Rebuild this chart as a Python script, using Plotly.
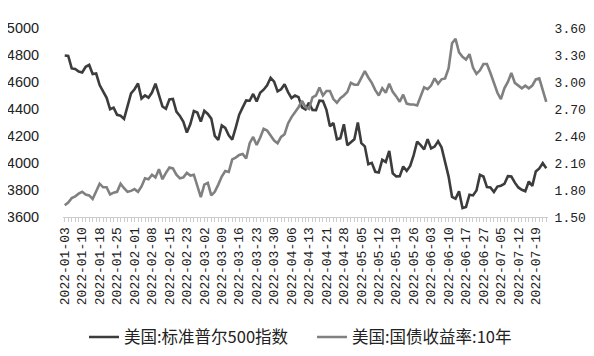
import pandas as pd
import plotly.graph_objects as go

holidays = ["2022-01-17", "2022-02-21", "2022-04-15", "2022-05-30", "2022-06-20", "2022-07-04"]
dates = [d.strftime("%Y-%m-%d") for d in pd.bdate_range("2022-01-03", "2022-07-22")
         if d.strftime("%Y-%m-%d") not in holidays]

spx = [4796.56, 4793.54, 4700.58, 4696.05, 4677.03, 4670.29, 4713.07, 4726.35, 4659.03, 4662.85,
       4577.11, 4532.76, 4482.73, 4397.94, 4410.13, 4356.45, 4349.93, 4326.51, 4431.85, 4515.55,
       4546.54, 4589.38, 4477.44, 4500.53, 4483.87, 4521.54, 4587.18, 4504.08, 4418.64, 4401.67,
       4471.07, 4475.01, 4380.26, 4348.87, 4304.76, 4225.50, 4288.70, 4384.65, 4373.94,
       4306.26, 4386.54, 4363.49, 4328.87, 4201.09, 4170.70, 4277.88, 4259.52, 4204.31, 4173.11,
       4262.45, 4357.86, 4411.67, 4463.12, 4461.18, 4511.61, 4456.24, 4520.16, 4543.06, 4575.52,
       4631.60, 4602.45, 4530.41,
       4545.86, 4582.64, 4525.12, 4481.15, 4500.21, 4488.28, 4412.53, 4397.45, 4446.59, 4392.59,
       4391.69, 4462.21, 4459.45, 4393.66, 4271.78, 4296.12, 4175.20, 4183.96, 4287.50, 4131.93,
       4155.38, 4175.48, 4300.17, 4146.87, 4123.34, 3991.24, 4001.05, 3935.18, 3930.08, 4023.89,
       4008.01, 4088.85, 3923.68, 3900.79, 3901.36, 3973.75, 3941.48, 3978.73, 4057.84, 4158.24,
       4132.15,
       4101.23, 4176.82, 4108.54, 4121.43, 4160.68, 4115.77, 4017.82, 3900.86, 3749.63, 3735.48,
       3789.99, 3666.77, 3674.84, 3764.79, 3759.89, 3795.73, 3911.74, 3900.11, 3821.55, 3818.83,
       3785.38,
       3825.33, 3831.39, 3845.08, 3902.62, 3899.38, 3854.43, 3818.80, 3801.78, 3790.38, 3863.16,
       3830.85, 3936.69, 3959.90, 3998.95, 3961.63]

ust10 = [1.63, 1.66, 1.71, 1.73, 1.76, 1.78, 1.75, 1.74, 1.70, 1.78, 1.87, 1.83, 1.83, 1.75, 1.77,
         1.78, 1.87, 1.82, 1.78, 1.79,
         1.81, 1.78, 1.84, 1.93, 1.92, 1.97, 1.94, 2.03, 1.92, 1.99, 2.05, 2.04, 1.97, 1.93, 1.94,
         1.99, 1.96, 1.97, 1.83,
         1.72, 1.86, 1.88, 1.74, 1.78, 1.86, 1.95, 2.01, 2.00, 2.14, 2.16, 2.19, 2.20, 2.15, 2.32,
         2.39, 2.30, 2.38, 2.48, 2.46, 2.40, 2.35, 2.32,
         2.39, 2.42, 2.54, 2.61, 2.66, 2.72, 2.79, 2.72, 2.70, 2.83, 2.85, 2.94, 2.85, 2.90, 2.90,
         2.81, 2.77, 2.82, 2.85, 2.89,
         2.99, 2.97, 2.97, 3.05, 3.12, 3.05, 2.99, 2.91, 2.85, 2.93, 2.88, 2.98, 2.89, 2.84, 2.78,
         2.86, 2.76, 2.75, 2.75, 2.74, 2.85,
         2.94, 2.92, 2.96, 3.04, 2.98, 3.03, 3.04, 3.15, 3.43, 3.48, 3.33, 3.28, 3.25, 3.31, 3.16,
         3.09, 3.13, 3.20, 3.20, 3.10, 2.98,
         2.88, 2.81, 2.93, 3.00, 3.10, 2.99, 2.96, 2.93, 2.96, 2.93, 2.96, 3.03, 3.04, 2.91, 2.78]

left_ticks = [3600, 3800, 4000, 4200, 4400, 4600, 4800, 5000]
right_ticks = [1.50, 1.80, 2.10, 2.40, 2.70, 3.00, 3.30, 3.60]
right_labels = ["1.50", "1.80", "2.10", "2.40", "2.70", "3.00", "3.30", "3.60"]
ticktext = [d if i % 5 == 0 else "" for i, d in enumerate(dates)]

fig = go.Figure()
fig.add_trace(go.Scatter(x=dates, y=spx, mode="lines", name="美国:标准普尔500指数",
                         line=dict(color="#3c3c3c", width=2.6)))
fig.add_trace(go.Scatter(x=dates, y=ust10, mode="lines", name="美国:国债收益率:10年",
                         line=dict(color="#808080", width=2.6), yaxis="y2"))

fig.update_layout(
    width=594, height=356,
    margin=dict(l=55, r=54, t=20, b=147, autoexpand=False),
    paper_bgcolor="white", plot_bgcolor="white",
    font=dict(family="Noto Sans CJK SC, Liberation Sans", color="#222"),
    showlegend=True,
    legend=dict(orientation="h", xref="container", yref="container", x=76 / 594, xanchor="left",
                y=0.075, yanchor="middle", font=dict(size=16.5, color="#222"),
                itemwidth=30, tracegroupgap=0, entrywidth=183, entrywidthmode="pixels"),
    xaxis=dict(type="category", range=[-0.5, len(dates) - 0.5], tickmode="array",
               tickvals=dates, ticktext=ticktext, tickangle=-90, ticks="outside", ticklen=4,
               tickcolor="#cccccc", showline=True, linecolor="#cccccc", linewidth=1,
               showgrid=False, zeroline=False, automargin=False,
               tickfont=dict(family="Liberation Mono", size=13, color="#222")),
    yaxis=dict(range=[3600, 5000], tickvals=left_ticks, showgrid=False, zeroline=False,
               showline=False, ticks="outside", ticklen=20, tickcolor="rgba(0,0,0,0)",
               automargin=False,
               tickfont=dict(family="Liberation Sans", size=14.5, color="#222")),
    yaxis2=dict(range=[1.5, 3.6], tickmode="array", tickvals=right_ticks, ticktext=right_labels,
                overlaying="y", side="right", showgrid=False, zeroline=False, showline=False,
                ticks="outside", ticklen=3, tickcolor="rgba(0,0,0,0)", automargin=False,
                tickfont=dict(family="Liberation Mono", size=13, color="#222")),
)

fig.write_html("out.html")
